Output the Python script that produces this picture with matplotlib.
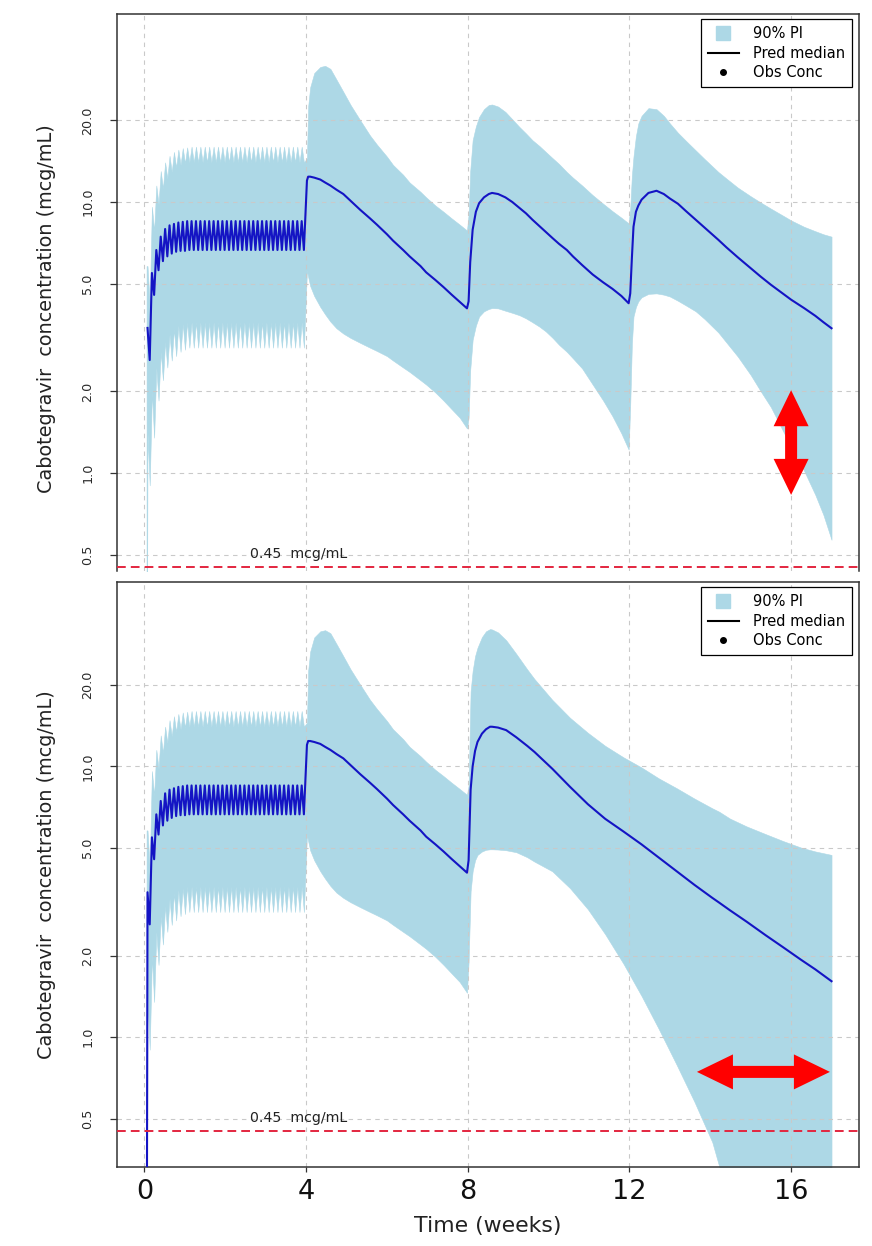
import numpy as np
import matplotlib
matplotlib.use("Agg")
import matplotlib.pyplot as plt
from matplotlib.lines import Line2D
from matplotlib.patches import Polygon
from matplotlib.ticker import NullLocator
from matplotlib.transforms import IdentityTransform

plt.rcParams["font.family"] = ["DejaVu Sans"]

W, H, DPI = 872, 1246, 100

# ---------------- data (concentrations in mcg/mL, time in weeks) ----------------
# Oral lead-in: one peak/trough pair per tablet, shared by both regimens
ORAL_START_WK = 0.052
ORAL_START_HI = 5.8
ORAL_START_LO = 0.05
ORAL_FIRST_PEAK_WK = 0.075
ORAL_INTERVAL_WK = 0.109

ORAL_MED_PEAK = [3.43, 5.47, 6.65, 7.45, 7.95, 8.20, 8.30, 8.40, 8.45, 8.50,
                 8.50, 8.50, 8.50, 8.50, 8.50, 8.50, 8.50, 8.50, 8.50, 8.50,
                 8.50, 8.50, 8.50, 8.50, 8.50, 8.50, 8.50, 8.50, 8.50, 8.50,
                 8.50, 8.50, 8.50, 8.50, 8.50, 8.50]
ORAL_MED_TROUGH = [2.61, 4.54, 5.60, 6.05, 6.30, 6.45, 6.55, 6.60, 6.60, 6.65,
                   6.65, 6.65, 6.65, 6.65, 6.65, 6.65, 6.65, 6.65, 6.65, 6.65,
                   6.65, 6.65, 6.65, 6.65, 6.65, 6.65, 6.65, 6.65, 6.65, 6.65,
                   6.65, 6.65, 6.65, 6.65, 6.65, 6.65]
ORAL_HI_PEAK = [5.8, 9.6, 11.5, 13.0, 14.0, 14.8, 15.3, 15.6, 15.8, 15.9,
                16.0, 16.0, 16.0, 16.0, 16.0, 16.0, 16.0, 16.0, 16.0, 16.0,
                16.0, 16.0, 16.0, 16.0, 16.0, 16.0, 16.0, 16.0, 16.0, 16.0,
                16.0, 16.0, 16.0, 16.0, 16.0, 16.0]
ORAL_HI_TROUGH = [4.2, 7.8, 9.8, 11.2, 12.2, 12.9, 13.4, 13.7, 13.9, 14.0,
                  14.0, 14.0, 14.0, 14.0, 14.0, 14.0, 14.0, 14.0, 14.0, 14.0,
                  14.0, 14.0, 14.0, 14.0, 14.0, 14.0, 14.0, 14.0, 14.0, 14.0,
                  14.0, 14.0, 14.0, 14.0, 14.0, 14.0]
ORAL_LO_PEAK = [1.40, 2.00, 2.45, 2.80, 3.05, 3.25, 3.40, 3.50, 3.55, 3.60,
                3.60, 3.60, 3.60, 3.60, 3.60, 3.60, 3.60, 3.60, 3.60, 3.60,
                3.60, 3.60, 3.60, 3.60, 3.60, 3.60, 3.60, 3.60, 3.60, 3.60,
                3.60, 3.60, 3.60, 3.60, 3.60, 3.60]
ORAL_LO_TROUGH = [0.90, 1.35, 1.85, 2.20, 2.45, 2.60, 2.70, 2.80, 2.85, 2.90,
                  2.90, 2.90, 2.90, 2.90, 2.90, 2.90, 2.90, 2.90, 2.90, 2.90,
                  2.90, 2.90, 2.90, 2.90, 2.90, 2.90, 2.90, 2.90, 2.90, 2.90,
                  2.90, 2.90, 2.90, 2.90, 2.90, 2.90]

# First injection (week 4), shared by both regimens
LA1_WEEKS = [4.02, 4.05, 4.10, 4.20, 4.35, 4.47, 4.60, 4.75, 4.92, 5.10, 5.34, 5.58,
             5.75, 6.00, 6.15, 6.40, 6.56, 6.83, 6.97, 7.20, 7.40, 7.60, 7.80, 7.98]
LA1_MED = [12.0, 12.4, 12.4, 12.3, 12.1, 11.8, 11.5, 11.1, 10.7, 10.1, 9.35, 8.7,
           8.25, 7.6, 7.2, 6.65, 6.3, 5.8, 5.5, 5.15, 4.85, 4.55, 4.28, 4.05]
LA1_HI = [14.5, 22.5, 26.5, 29.9, 31.5, 31.8, 31.0, 28.3, 25.5, 22.8, 20.0, 17.6,
          16.3, 14.7, 13.7, 12.6, 11.8, 10.9, 10.4, 9.7, 9.2, 8.7, 8.25, 7.85]
LA1_LO = [5.6, 5.3, 4.9, 4.5, 4.1, 3.85, 3.62, 3.42, 3.27, 3.15, 3.02, 2.9,
          2.82, 2.7, 2.6, 2.45, 2.36, 2.2, 2.12, 1.98, 1.85, 1.72, 1.6, 1.46]

# Monthly dosing after week 8 (upper panel)
Q4_WEEKS = [8.02, 8.06, 8.12, 8.20, 8.28, 8.40, 8.52, 8.60, 8.75, 8.93, 9.10, 9.28,
            9.44, 9.60, 9.77, 9.93, 10.10, 10.26, 10.45, 10.60, 10.83, 11.09, 11.35,
            11.58, 11.80, 11.98,
            12.02, 12.06, 12.10, 12.16, 12.22, 12.30, 12.47, 12.67, 12.85, 13.00,
            13.20, 13.40, 13.64, 13.86, 14.20, 14.40, 14.68, 15.00, 15.25, 15.50,
            15.83, 16.00, 16.32, 16.60, 16.80, 17.00]
Q4_MED = [4.3, 6.0, 7.9, 9.2, 9.9, 10.4, 10.7, 10.8, 10.7, 10.4, 10.0, 9.5,
          9.08, 8.6, 8.15, 7.75, 7.35, 7.0, 6.65, 6.3, 5.85, 5.4, 5.05,
          4.78, 4.5, 4.23,
          4.6, 6.2, 8.1, 9.2, 9.7, 10.2, 10.8, 11.0, 10.7, 10.3,
          9.85, 9.25, 8.6, 8.05, 7.25, 6.8, 6.25, 5.7, 5.3, 4.95,
          4.55, 4.36, 4.06, 3.8, 3.6, 3.42]
Q4_HI = [9.0, 13.0, 16.9, 19.0, 20.6, 22.0, 22.8, 22.9, 22.5, 21.5, 20.2, 18.9,
         17.9, 16.9, 16.1, 15.3, 14.5, 13.8, 12.9, 12.3, 11.5, 10.6, 9.85,
         9.25, 8.75, 8.34,
         9.5, 12.5, 14.7, 17.5, 19.5, 20.8, 22.2, 22.0, 20.8, 19.5,
         18.0, 16.8, 15.5, 14.4, 12.9, 12.2, 11.3, 10.5, 9.95, 9.45,
         8.85, 8.55, 8.1, 7.8, 7.6, 7.45]
Q4_LO = [1.6, 2.4, 3.1, 3.5, 3.78, 3.95, 4.03, 4.06, 4.05, 3.97, 3.9, 3.82,
         3.72, 3.6, 3.47, 3.33, 3.15, 2.97, 2.8, 2.65, 2.43, 2.12, 1.85,
         1.62, 1.4, 1.22,
         1.8, 3.0, 3.78, 4.1, 4.3, 4.45, 4.58, 4.6, 4.55, 4.48,
         4.32, 4.15, 3.95, 3.7, 3.3, 3.03, 2.69, 2.3, 2.0, 1.75,
         1.4, 1.25, 1.02, 0.83, 0.7, 0.567]

# Week-8 injection followed by a longer dosing gap (lower panel)
Q8_WEEKS = [8.02, 8.07, 8.12, 8.18, 8.24, 8.35, 8.45, 8.55, 8.60, 8.75, 8.95, 9.20,
            9.47, 9.65, 10.09, 10.53, 10.97, 11.40, 11.85, 12.30, 12.73, 13.17,
            13.61, 14.05, 14.22, 14.49, 14.90, 15.37, 15.80, 16.25, 16.60, 17.00]
Q8_MED = [4.5, 8.2, 10.0, 11.4, 12.3, 13.2, 13.7, 14.0, 14.0, 13.9, 13.6, 12.8,
          11.9, 11.3, 9.8, 8.4, 7.25, 6.4, 5.75, 5.15, 4.6, 4.1,
          3.65, 3.27, 3.14, 2.94, 2.67, 2.38, 2.15, 1.93, 1.78, 1.61]
Q8_HI = [8.5, 18.9, 22.5, 25.5, 27.4, 30.0, 31.5, 32.1, 32.0, 31.2, 29.2, 26.0,
         22.8, 21.0, 17.6, 15.1, 13.3, 11.9, 10.8, 9.9, 9.02, 8.3,
         7.6, 7.0, 6.8, 6.41, 6.0, 5.62, 5.3, 5.01, 4.85, 4.71]
Q8_LO = [1.9, 3.46, 4.1, 4.5, 4.71, 4.85, 4.92, 4.94, 4.94, 4.93, 4.9, 4.82,
         4.62, 4.45, 4.1, 3.55, 2.97, 2.4, 1.87, 1.42, 1.07, 0.79,
         0.577, 0.41, 0.334, 0.27, 0.2, 0.15, 0.11, 0.08, 0.065, 0.05]
LOWER_START_MED = 0.05

THRESHOLD = 0.45
THRESHOLD_LABEL = "0.45  mcg/mL"
Y_TICKS = [0.5, 1.0, 2.0, 5.0, 10.0, 20.0]
Y_TICK_LABELS = ["0.5", "1.0", "2.0", "5.0", "10.0", "20.0"]
X_TICKS = [0, 4, 8, 12, 16]
X_TICK_LABELS = ["0", "4", "8", "12", "16"]
Y_LABEL = "Cabotegravir  concentration (mcg/mL)"
X_LABEL = "Time (weeks)"
LEGEND_LABELS = ["90% PI", "Pred median", "Obs Conc"]

# Red double arrows (data coordinates)
UPPER_ARROW = ((16.0, 0.83), (16.0, 2.02))
LOWER_ARROW = ((13.67, 0.745), (16.96, 0.745))

BAND_COLOR = "#ADD8E6"
MEDIAN_COLOR = "#1414c4"
THRESH_COLOR = "#e3263f"
GRID_COLOR = "#c9c9c9"
FRAME_COLOR = "#333333"


def oral_series(peaks, troughs):
    t, v = [], []
    for k, (p, tr) in enumerate(zip(peaks, troughs)):
        tp = ORAL_FIRST_PEAK_WK + k * ORAL_INTERVAL_WK
        t += [tp, tp + 0.5 * ORAL_INTERVAL_WK]
        v += [p, tr]
    return t, v


oral_t, oral_med = oral_series(ORAL_MED_PEAK, ORAL_MED_TROUGH)
_, oral_hi = oral_series(ORAL_HI_PEAK, ORAL_HI_TROUGH)
_, oral_lo = oral_series(ORAL_LO_PEAK, ORAL_LO_TROUGH)


def px_axes(fig, left, top, right, bottom):
    return fig.add_axes([left / W, 1 - bottom / H, (right - left) / W, (bottom - top) / H])


def double_arrow(fig, ax, p0, p1, head_len=36, head_w=35, shaft_w=12):
    a = ax.transData.transform(p0)
    b = ax.transData.transform(p1)
    d = b - a
    u = d / np.hypot(*d)
    n = np.array([-u[1], u[0]])
    hw, sw = head_w / 2, shaft_w / 2
    pts = [a,
           a + u * head_len + n * hw, a + u * head_len + n * sw,
           b - u * head_len + n * sw, b - u * head_len + n * hw,
           b,
           b - u * head_len - n * hw, b - u * head_len - n * sw,
           a + u * head_len - n * sw, a + u * head_len - n * hw]
    fig.add_artist(Polygon(pts, closed=True, facecolor="#ff0000", edgecolor="none",
                           transform=IdentityTransform(), zorder=10))


def draw_panel(ax, la_weeks, la_med, la_hi, la_lo, med_start, ylim, show_x):
    band_t = [ORAL_START_WK] + oral_t + la_weeks
    band_hi = [ORAL_START_HI] + oral_hi + la_hi
    band_lo = [ORAL_START_LO] + oral_lo + la_lo
    ax.fill_between(band_t, band_lo, band_hi, color=BAND_COLOR, lw=0.4,
                    edgecolor=BAND_COLOR, zorder=1)

    med_t = oral_t + la_weeks
    med_v = oral_med + la_med
    if med_start is not None:
        med_t = [ORAL_START_WK] + med_t
        med_v = [med_start] + med_v
    ax.plot(med_t, med_v, color=MEDIAN_COLOR, lw=1.5, zorder=3)

    ax.axhline(THRESHOLD, color=THRESH_COLOR, lw=1.4, ls=(0, (4.5, 2.6)), zorder=4)
    ax.annotate(THRESHOLD_LABEL, xy=(3.81, THRESHOLD), xytext=(0, 4.2),
                textcoords="offset points", ha="center", va="bottom",
                fontsize=10.2, color="#222222")

    ax.set_yscale("log")
    ax.set_xlim(-0.68, 17.68)
    ax.set_ylim(*ylim)
    ax.set_yticks(Y_TICKS)
    ax.set_yticklabels(Y_TICK_LABELS)
    ax.yaxis.set_minor_locator(NullLocator())
    ax.set_xticks(X_TICKS)
    ax.set_xticklabels(X_TICK_LABELS)
    ax.tick_params(axis="y", which="major", length=5, width=0.9, color=FRAME_COLOR,
                   labelsize=9.2, pad=11.5, labelrotation=90, labelcolor="#2a2a2a")
    for lab in ax.get_yticklabels():
        lab.set_va("center")
    ax.tick_params(axis="x", which="major", length=3.5, width=0.9, color=FRAME_COLOR,
                   labelsize=19.5, pad=5, labelcolor="#111111",
                   bottom=show_x, labelbottom=show_x)

    ax.set_axisbelow("line")
    ax.grid(True, which="major", color=GRID_COLOR, lw=0.8, ls=(0, (4, 4)))

    for s in ax.spines.values():
        s.set_color(FRAME_COLOR)
        s.set_linewidth(1.1)
    if not show_x:
        ax.spines["bottom"].set_visible(False)

    handles = [Line2D([], [], ls="none", marker="s", ms=10.5, mfc=BAND_COLOR, mec=BAND_COLOR),
               Line2D([], [], color="black", lw=1.5),
               Line2D([], [], ls="none", marker="o", ms=4, mfc="black", mec="black")]
    bbox = ax.get_position()
    leg = ax.legend(handles, LEGEND_LABELS, loc="upper right",
                    bbox_to_anchor=(1 - 7 / (bbox.width * W), 1 - 5 / (bbox.height * H)),
                    borderaxespad=0, frameon=True, fancybox=False, framealpha=1,
                    edgecolor="black", fontsize=10.5, handlelength=2.1,
                    handletextpad=0.95, labelspacing=0.3, borderpad=0.5)
    leg.get_frame().set_linewidth(0.9)
    leg.set_zorder(6)


fig = plt.figure(figsize=(W / DPI, H / DPI), dpi=DPI, facecolor="white")

ax_top = px_axes(fig, 117, 14, 859, 571)
draw_panel(ax_top, LA1_WEEKS + Q4_WEEKS, LA1_MED + Q4_MED, LA1_HI + Q4_HI, LA1_LO + Q4_LO,
           None, (0.4347, 49.4), False)

ax_bot = px_axes(fig, 117, 582, 859, 1167)
draw_panel(ax_bot, LA1_WEEKS + Q8_WEEKS, LA1_MED + Q8_MED, LA1_HI + Q8_HI, LA1_LO + Q8_LO,
           LOWER_START_MED, (0.332, 47.9), True)

fig.text(47 / W, 1 - 309 / H, Y_LABEL, rotation=90, ha="center", va="center",
         fontsize=13.9, color="#222222")
fig.text(47 / W, 1 - 875 / H, Y_LABEL, rotation=90, ha="center", va="center",
         fontsize=13.9, color="#222222")
fig.text(488 / W, 1 - 1226 / H, X_LABEL, ha="center", va="center",
         fontsize=15.8, color="#222222")

double_arrow(fig, ax_top, *UPPER_ARROW)
double_arrow(fig, ax_bot, *LOWER_ARROW)

fig.savefig("out.png", dpi=DPI, facecolor="white")
